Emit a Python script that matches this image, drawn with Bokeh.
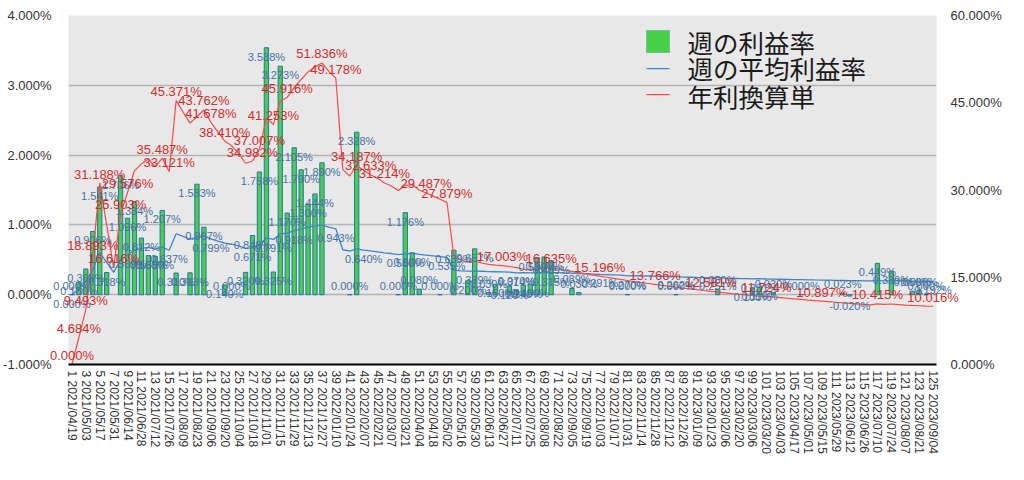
import math
from datetime import date, timedelta
from bokeh.plotting import figure
from bokeh.models import (Range1d, LinearAxis, FixedTicker, PrintfTickFormatter,
                          ColumnDataSource, Label, BoxAnnotation)
from bokeh.embed import file_html
from bokeh.resources import INLINE
from bokeh.core.properties import value

# ---------------- data ----------------
start_date = "2021/04/19"
n_weeks = 125
weeks = list(range(1, n_weeks + 1))

# weekly profit rate (%) - only weeks that have a value
bar_weeks = [1, 2, 3, 4, 5, 6, 8, 9, 10, 11, 12, 13, 14, 16, 18, 19, 20, 23, 24,
             26, 27, 28, 29, 30, 31, 32, 33, 34, 35, 36, 37, 41, 42, 48, 49, 50, 51,
             54, 56, 58, 59, 61, 62, 64, 65, 66, 67, 68, 69, 70, 73, 74, 81, 88, 94,
             99, 100, 102, 106, 112, 113, 117, 119, 122, 123, 124]
bar_values = [0.000, 0.180, 0.368, 0.906, 1.541, 0.318, 1.706, 1.096, 1.334, 0.812,
              0.560, 0.550, 1.207, 0.310, 0.313, 1.583, 0.967, 0.140, 0.000,
              0.320, 0.848, 1.758, 3.538, 0.325, 3.273, 1.170, 2.105, 1.790, 1.300,
              1.444, 1.890, 0.000, 2.328, 0.000, 1.176, 0.600, 0.080,
              0.000, 0.639, 0.200, 0.657, 0.030, 0.150, 0.120, 0.070, 0.140, 0.150,
              0.530, 0.540, 0.489, 0.089, 0.030, 0.000, 0.000, 0.080,
              0.100, 0.110, 0.030, 0.000, 0.023, -0.020, 0.449, 0.339, 0.050, 0.060,
              0.000]

# weekly average profit rate (%) - left axis
avg_rate = [0.000, 0.090, 0.183, 0.363, 0.600, 0.462, 0.320, 0.498, 0.569, 0.640,
            0.663, 0.679, 0.654, 0.682, 0.637, 0.873, 0.835, 0.798, 0.819, 0.842,
            0.799, 0.769, 0.739, 0.723, 0.698, 0.665, 0.671, 0.712, 0.815, 0.791,
            0.871, 0.883, 0.918, 0.942, 0.967, 0.985, 0.997, 0.969, 0.943, 0.644,
            0.623, 0.657, 0.640, 0.628, 0.615, 0.600, 0.590, 0.575, 0.586, 0.594,
            0.577, 0.567, 0.557, 0.546, 0.535, 0.352, 0.340, 0.337, 0.339, 0.336,
            0.331, 0.329, 0.327, 0.324, 0.314, 0.315, 0.313, 0.316, 0.318, 0.315,
            0.316, 0.311, 0.308, 0.304, 0.300, 0.296, 0.291, 0.288, 0.285, 0.281,
            0.270, 0.274, 0.271, 0.268, 0.265, 0.262, 0.259, 0.262, 0.253, 0.250,
            0.247, 0.245, 0.242, 0.251, 0.237, 0.235, 0.232, 0.230, 0.228, 0.231,
            0.225, 0.223, 0.221, 0.219, 0.217, 0.215, 0.213, 0.211, 0.210, 0.208,
            0.206, 0.204, 0.202, 0.201, 0.199, 0.197, 0.200, 0.199, 0.200, 0.198,
            0.197, 0.195, 0.194, 0.193, 0.192]

# annualised rate (%) - right axis
annual_rate = [0.000, 4.684, 9.493, 18.893, 31.188, 24.000, 16.616, 25.903, 29.576, 33.300,
               34.500, 35.300, 34.000, 35.487, 33.121, 45.371, 43.400, 41.500, 42.600, 43.762,
               41.678, 40.000, 38.410, 37.600, 36.300, 34.600, 34.982, 37.007, 42.400, 41.253,
               45.300, 45.916, 47.600, 49.000, 50.300, 51.200, 51.836, 50.400, 49.178, 33.500,
               32.400, 34.187, 33.400, 32.633, 32.000, 31.214, 30.700, 29.900, 30.800, 30.900,
               30.000, 29.487, 28.950, 28.400, 27.879, 18.600, 18.000, 17.600, 17.750, 17.450,
               17.200, 17.100, 17.003, 16.850, 16.650, 16.400, 16.300, 16.420, 16.550, 16.635,
               16.420, 16.190, 16.000, 15.790, 15.580, 15.380, 15.196, 15.000, 14.810, 14.620,
               14.440, 14.260, 14.090, 13.930, 13.766, 13.610, 13.450, 13.300, 13.150, 13.010,
               12.860, 12.720, 12.581, 12.460, 12.330, 12.200, 12.080, 11.960, 11.860, 11.760,
               11.724, 11.610, 11.500, 11.390, 11.280, 11.180, 11.070, 10.970, 10.897, 10.800,
               10.700, 10.610, 10.520, 10.430, 10.340, 10.250, 10.415, 10.330, 10.400, 10.310,
               10.220, 10.150, 10.100, 10.050, 10.016]

annual_label_weeks = [1, 2, 3, 4, 5, 7, 8, 9, 14, 15, 16, 20, 21, 23, 27, 28, 30, 32, 37,
                      39, 42, 44, 46, 52, 55, 63, 70, 77, 85, 93, 101, 109, 117, 125]
avg_label_weeks = [1, 9, 15, 21, 27, 30, 33, 39, 43, 49, 55, 59, 65, 70, 77, 81, 88, 94,
                   100, 125]

tick_weeks = list(range(1, n_weeks + 1, 2))
_d0 = date(*[int(s) for s in start_date.split("/")])
tick_labels = [f"{w} {(_d0 + timedelta(weeks=w - 1)).strftime('%Y/%m/%d')}" for w in tick_weeks]

legend_names = ["週の利益率", "週の平均利益率", "年利換算単"]

# ---------------- styles ----------------
FONT = "Liberation Sans"
BAR_FILL = "#47d147"
BAR_LINE = "#2c6fb6"
AVG_COLOR = "#3f85c8"
ANN_COLOR = "#ff4848"
BLUE_TXT = "#4672a4"
RED_TXT = "#d42c2c"

p = figure(width=1008, height=472, x_range=Range1d(0.5, 125.5), y_range=Range1d(-1, 4),
           output_backend="svg", toolbar_location=None,
           min_border_left=61, min_border_right=72, min_border_top=15, min_border_bottom=108,
           background_fill_color="#e8e8e8", border_fill_color="white",
           outline_line_color=None)
p.extra_y_ranges = {"r": Range1d(0, 60)}

# grid
p.xgrid.visible = False
p.ygrid[0].ticker = FixedTicker(ticks=[-1, 0, 1, 2, 3, 4])
p.ygrid[0].grid_line_color = "#b4b4b4"
p.ygrid[0].grid_line_width = 1.5

# left axis
ya = p.yaxis[0]
ya.ticker = FixedTicker(ticks=[-1, 0, 1, 2, 3, 4])
ya.formatter = PrintfTickFormatter(format="%.3f%%")
ya.axis_line_color = None
ya.major_tick_line_color = None
ya.minor_tick_line_color = None
ya.major_tick_out = 0
ya.major_tick_in = 0
ya.major_label_standoff = 17
ya.major_label_text_font = FONT
ya.major_label_text_font_size = "13px"
ya.major_label_text_color = "#333333"

# right axis
ra = LinearAxis(y_range_name="r", ticker=FixedTicker(ticks=[0, 15, 30, 45, 60]),
                formatter=PrintfTickFormatter(format="%.3f%%"))
ra.axis_line_color = None
ra.major_tick_line_color = None
ra.minor_tick_line_color = None
ra.major_tick_out = 0
ra.major_tick_in = 0
ra.major_label_standoff = 14
ra.major_label_text_font = FONT
ra.major_label_text_font_size = "13px"
ra.major_label_text_color = "#333333"
p.add_layout(ra, "right")

# x axis
xa = p.xaxis[0]
xa.ticker = FixedTicker(ticks=tick_weeks)
xa.major_label_overrides = {w: lab for w, lab in zip(tick_weeks, tick_labels)}
xa.major_label_orientation = -math.pi / 2
xa.axis_line_color = "black"
xa.axis_line_width = 2
xa.major_tick_line_color = None
xa.minor_tick_line_color = None
xa.major_tick_out = 0
xa.major_tick_in = 0
xa.major_label_standoff = 6
xa.major_label_text_font = FONT
xa.major_label_text_font_size = "12px"
xa.major_label_text_color = "#333333"

# bars
bar_src = ColumnDataSource(dict(x=bar_weeks, top=bar_values))
p.vbar(x="x", top="top", bottom=0, width=0.62, source=bar_src,
       fill_color=BAR_FILL, line_color=BAR_LINE, line_width=1)

# lines
p.line(weeks, avg_rate, line_color=AVG_COLOR, line_width=1.3)
p.line(weeks, annual_rate, line_color=ANN_COLOR, line_width=1.2, y_range_name="r")


# data labels: text glyphs on the overlay level, so they may overflow the plot area
def fmt(v):
    return f"{v:.3f}%"


bar_off = [9 if v >= 0.1 else (-9 if v >= 0 else 10) for v in bar_values]
bl_src = ColumnDataSource(dict(x=bar_weeks, y=bar_values, t=[fmt(v) for v in bar_values],
                               off=bar_off))
p.text(x="x", y="y", text="t", y_offset="off", source=bl_src, level="overlay",
       text_align="center", text_baseline="middle", text_font=value(FONT),
       text_font_size="11px", text_color=BLUE_TXT)

av_y = [avg_rate[w - 1] for w in avg_label_weeks]
av_src = ColumnDataSource(dict(x=avg_label_weeks, y=av_y, t=[fmt(v) for v in av_y]))
p.text(x="x", y="y", text="t", y_offset=9, source=av_src, level="overlay",
       text_align="center", text_baseline="middle", text_font=value(FONT),
       text_font_size="11px", text_color=BLUE_TXT)

an_y = [annual_rate[w - 1] for w in annual_label_weeks]
an_src = ColumnDataSource(dict(x=annual_label_weeks, y=an_y, t=[fmt(v) for v in an_y]))
p.text(x="x", y="y", text="t", y_offset=-9, source=an_src, y_range_name="r", level="overlay",
       text_align="center", text_baseline="middle", text_font=value(FONT),
       text_font_size="13px", text_color=RED_TXT)

# legend (screen units relative to the plot frame)
p.add_layout(BoxAnnotation(left=578, right=601, bottom=312, top=334,
                           left_units="screen", right_units="screen",
                           bottom_units="screen", top_units="screen",
                           fill_color=BAR_FILL, fill_alpha=1, line_color=BAR_LINE, line_width=1))
p.add_layout(BoxAnnotation(left=578, right=601, bottom=295.2, top=296.4,
                           left_units="screen", right_units="screen",
                           bottom_units="screen", top_units="screen",
                           fill_color=AVG_COLOR, fill_alpha=1, line_color=None))
p.add_layout(BoxAnnotation(left=578, right=601, bottom=269.2, top=270.4,
                           left_units="screen", right_units="screen",
                           bottom_units="screen", top_units="screen",
                           fill_color=ANN_COLOR, fill_alpha=1, line_color=None))
for name, yy in zip(legend_names, [323, 297, 269.5]):
    p.add_layout(Label(x=619, y=yy, x_units="screen", y_units="screen", text=name,
                       text_font="Noto Sans CJK JP", text_font_size="25.5px",
                       text_baseline="middle", text_align="left", text_color="#1a1a1a"))

open("out.html", "w").write(file_html(p, INLINE))
